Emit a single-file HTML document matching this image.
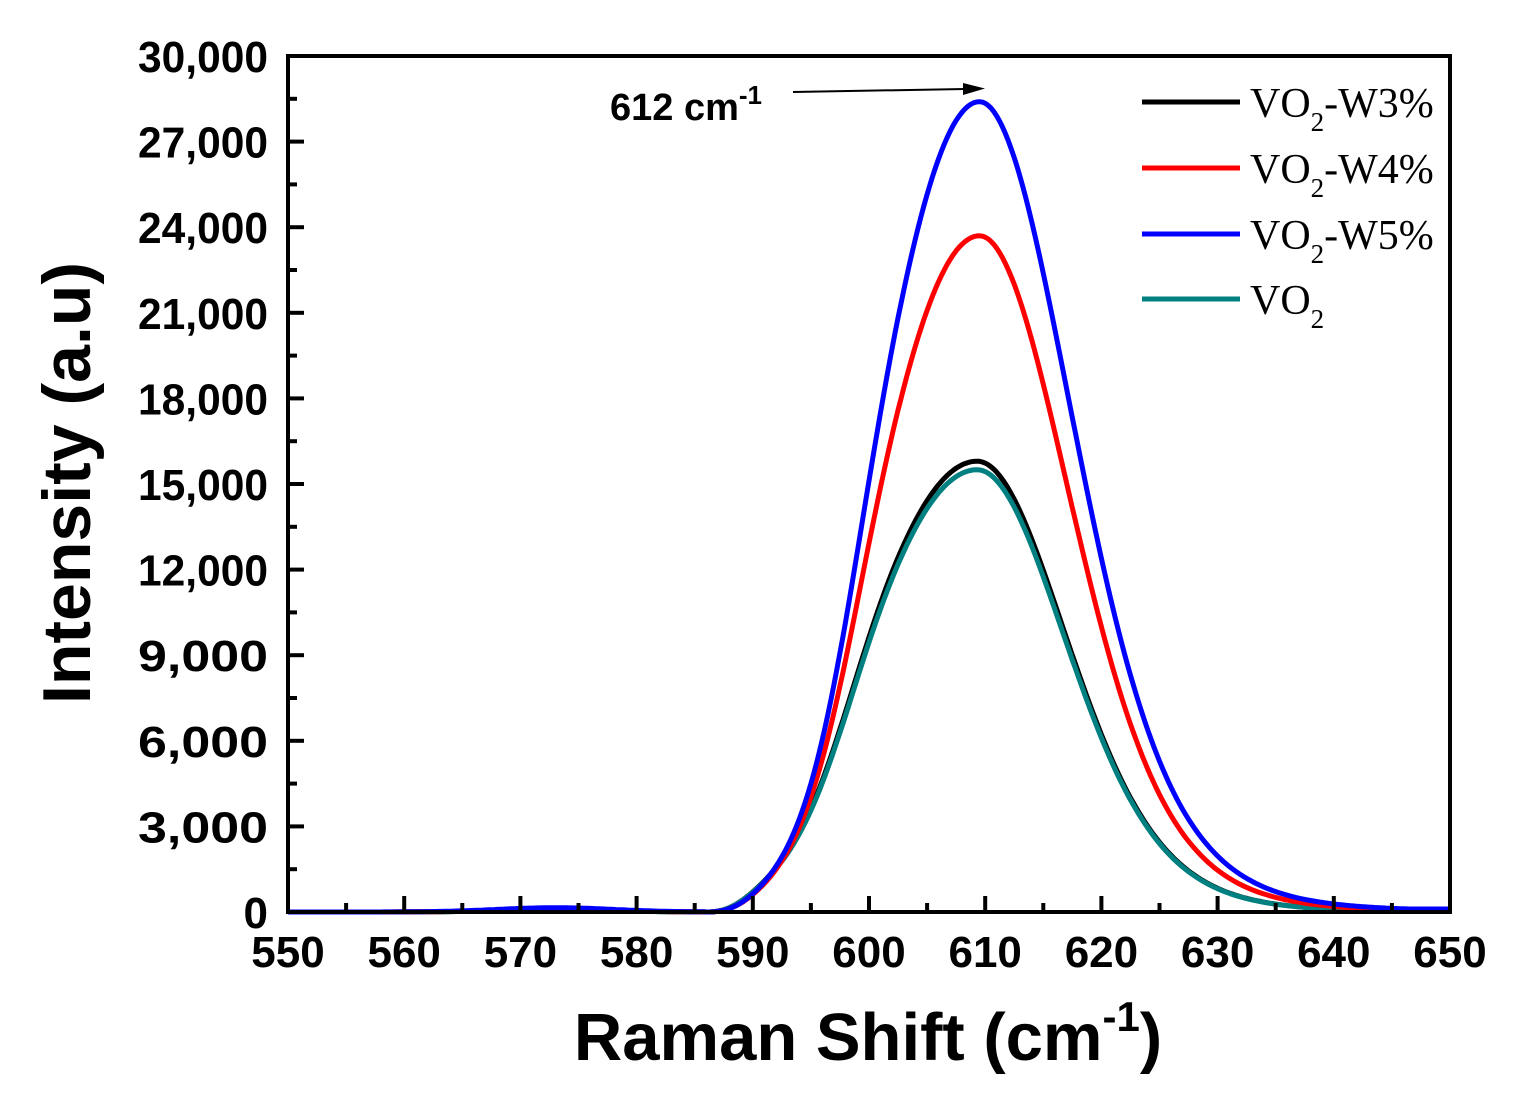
<!DOCTYPE html>
<html><head><meta charset="utf-8"><style>
html,body{margin:0;padding:0;background:#fff;}
svg{display:block;}
.t{font-family:"Liberation Sans",Arial,sans-serif;font-weight:bold;fill:#000;}
.r{font-family:"Liberation Serif","Times New Roman",serif;fill:#000;}
</style></head><body>
<svg id="s" width="1513" height="1099" viewBox="0 0 1513 1099" xmlns="http://www.w3.org/2000/svg">
<g id="curves" fill="none" stroke-width="5" stroke-linejoin="round"></g>
<rect x="288" y="56" width="1162" height="856" fill="none" stroke="#000" stroke-width="4"/>
<g id="ticks" stroke="#000" stroke-width="4"></g>
<g id="labels" class="t" font-size="44"></g>
<text class="t" x="868" y="1060" font-size="67" text-anchor="middle">Raman Shift (cm<tspan font-size="42" dy="-29">-1</tspan><tspan dy="29">)</tspan></text>
<text class="t" font-size="68" text-anchor="middle" transform="translate(90,483) rotate(-90)">Intensity (a.u)</text>
<text class="t" x="610" y="120" font-size="38">612 cm<tspan font-size="26" dy="-16">-1</tspan></text>
<line x1="793" y1="92" x2="965" y2="89" stroke="#000" stroke-width="2"/>
<polygon points="985,88.5 963,83 963,95" fill="#000"/>
<g stroke-width="5">
<line x1="1142" y1="102" x2="1240" y2="102" stroke="#000"/>
<line x1="1142" y1="168" x2="1240" y2="168" stroke="#f00"/>
<line x1="1142" y1="234" x2="1240" y2="234" stroke="#00f"/>
<line x1="1142" y1="299" x2="1240" y2="299" stroke="#008080"/>
</g>
<g class="r" font-size="42">
<text x="1250" y="117">VO<tspan font-size="27" dy="14">2</tspan><tspan dy="-14">-W3%</tspan></text>
<text x="1250" y="183">VO<tspan font-size="27" dy="14">2</tspan><tspan dy="-14">-W4%</tspan></text>
<text x="1250" y="249">VO<tspan font-size="27" dy="14">2</tspan><tspan dy="-14">-W5%</tspan></text>
<text x="1250" y="314">VO<tspan font-size="27" dy="14">2</tspan></text>
</g>
</svg>
<script>
const X=v=>288+(v-550)*11.62, Y=v=>912-v*0.028533;
const ns="http://www.w3.org/2000/svg";
const tk=document.getElementById('ticks'), lb=document.getElementById('labels');
function add(p,tag,a,txt){const e=document.createElementNS(ns,tag);for(const k in a)e.setAttribute(k,a[k]);if(txt!==undefined)e.textContent=txt;p.appendChild(e);return e;}
for(let v=550;v<=650;v+=5){const x=X(v);const big=v%10==0;add(tk,'line',{x1:x,y1:912,x2:x,y2:912-(big?16:9)});
 if(big)add(lb,'text',{x:x,y:967,'text-anchor':'middle'},v);}
for(let v=0;v<=30000;v+=1500){const y=Y(v);const big=v%3000==0;add(tk,'line',{x1:288,y1:y,x2:288+(big?16:9),y2:y});
 if(big){const s=v==0?'0':v.toLocaleString('en-US');const a={x:268,y:y+16,'text-anchor':'end'};if(v)a.textLength=130,a.lengthAdjust='spacingAndGlyphs',a.x=138;if(v)delete a['text-anchor'];add(lb,'text',a,s);}}
const sL=d=>7.2+2.1/(1+Math.exp((d-10.5)/2.5));
const sR=d=>7.9+0.0023*d*d;
function f(x,A,c,kl,kr,base){let v;const d=x-c;
 if(d<0){const s=sL(-d)*kl;v=A*Math.exp(-d*d/(2*s*s));if(x<586)v=0;else v*=1-Math.exp(-Math.pow((x-586)/3,2));}
 else{const s=sR(d)*kr;v=A*Math.exp(-d*d/(2*s*s));}
 if(x<586)v+=base*Math.exp(-Math.pow((x-573)/7,2));
 if(x>630)v=Math.max(v,base*0.7);
 return v;}
const series=[["#000",15800,609.3,1.1,0.96,80],["#008080",15500,609.3,1.1,0.96,70],["#f00",23700,609.5,1.02,0.98,100],["#00f",28400,609.5,1,1,150]];
const g=document.getElementById('curves');
series.forEach(s=>{let d="";for(let x=550;x<=650.001;x+=0.25){d+=(d?"L":"M")+X(x).toFixed(1)+","+Y(f(x,s[1],s[2],s[3],s[4],s[5])).toFixed(1);}
 add(g,'path',{d:d,stroke:s[0]});});
</script>
</body></html>
